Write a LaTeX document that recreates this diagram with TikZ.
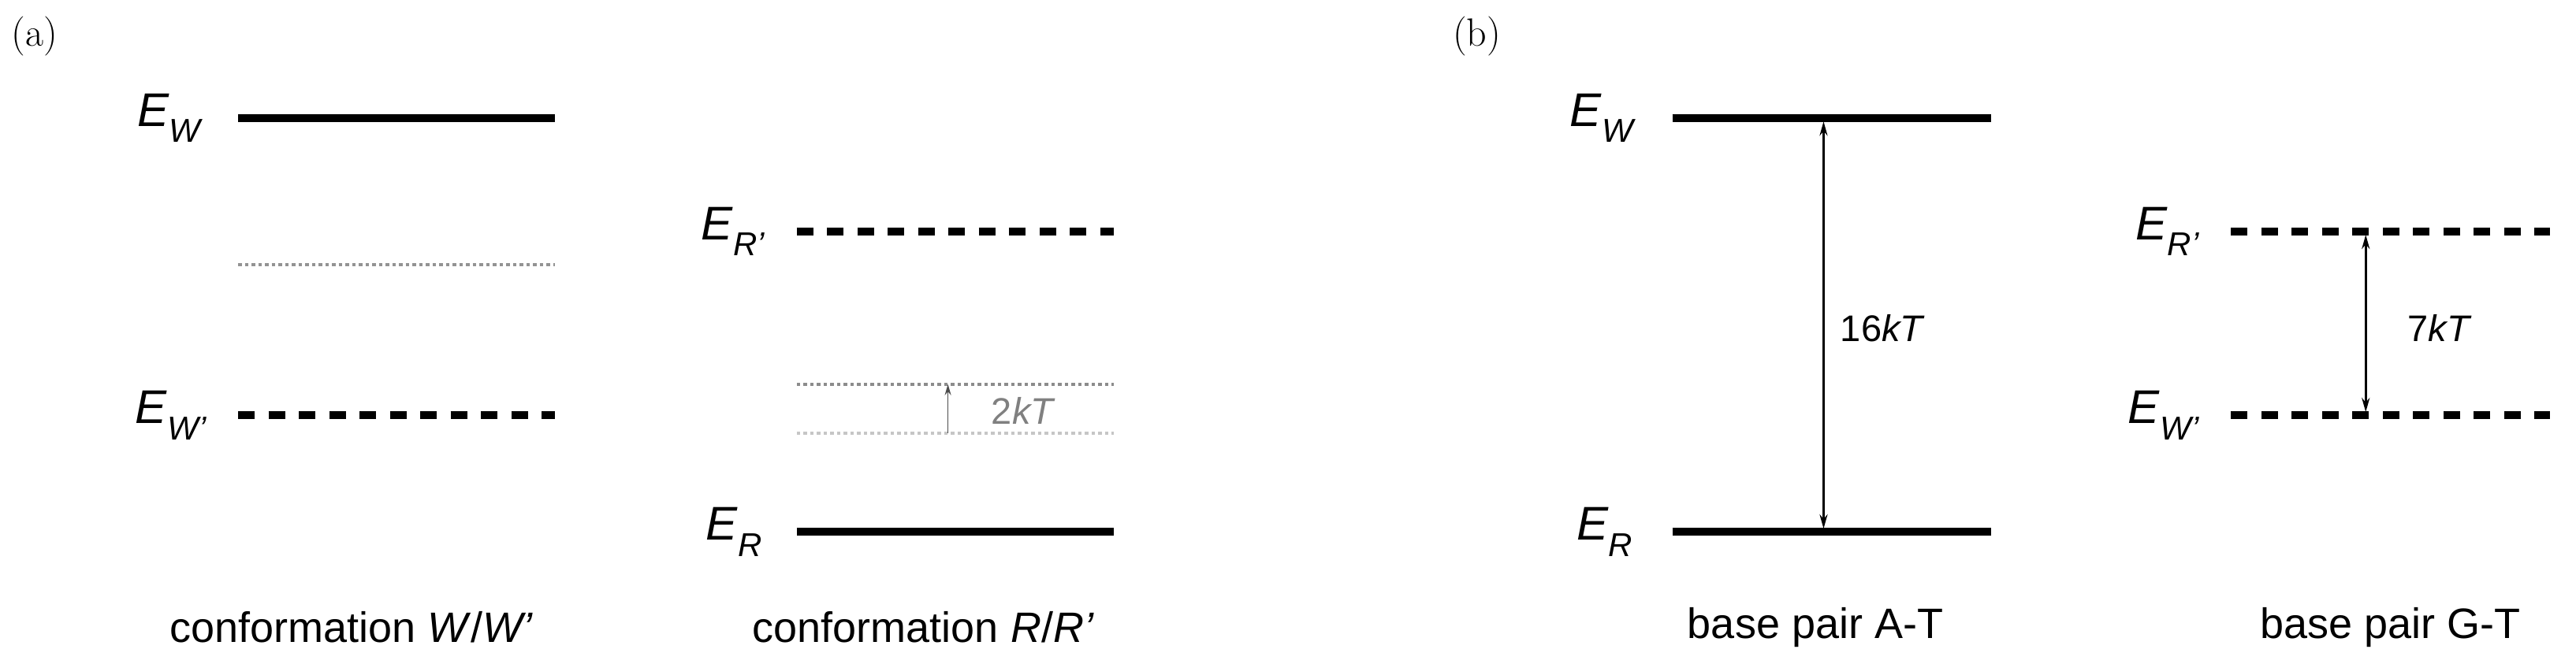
\documentclass[tikz,border=0pt]{standalone}
\usepackage{fontspec}
\setsansfont{Liberation Sans}
\usetikzlibrary{arrows.meta}
\begin{document}
\begin{tikzpicture}[x=2.084pt,y=-2.084pt,
  solidlev/.style={line width=10pt},
  dashlev/.style={line width=10pt,dash pattern=on 21pt off 17.5pt},
  dotlev/.style={line width=4pt,dash pattern=on 4.6pt off 3.9pt},
  elabel/.style={font=\sffamily\fontsize{60}{70}\selectfont,anchor=east,inner sep=0pt},
  captxt/.style={font=\sffamily\fontsize{54}{62}\selectfont},
  numtxt/.style={font=\sffamily\fontsize{47}{56}\selectfont},
  panel/.style={font=\rmfamily\fontsize{50}{60}\selectfont},
  gap/.style={line width=3pt,{Stealth[length=18pt,width=10pt]}-{Stealth[length=18pt,width=10pt]}}]
\useasboundingbox (0,0) rectangle (1568,404);
% panel labels
\node[panel] (pa) at (21,22) {(a)};
\node[panel] (pb) at (899,22) {(b)};
% (a) left
\coordinate (w1) at (145,72); \coordinate (w2) at (338,72);
\draw[solidlev] (w1) -- (w2);
\node[elabel] (lw) at (124,72) {\textit{E}\textsubscript{\textit{W}}};
\coordinate (g1) at (145,161); \coordinate (g2) at (338,161);
\draw[dotlev,gray!85] (g1) -- (g2);
\coordinate (wp1) at (145,253); \coordinate (wp2) at (338,253);
\draw[dashlev] (wp1) -- (wp2);
\node[elabel] (lwp) at (126,253) {\textit{E}\textsubscript{\textit{W’}}};
\node[captxt] (ca) at (214,382) {conformation \textit{W}/\textit{W’}};
% (a) right
\coordinate (rp1) at (485,141); \coordinate (rp2) at (678,141);
\draw[dashlev] (rp1) -- (rp2);
\node[elabel] (lrp) at (466,141) {\textit{E}\textsubscript{\textit{R’}}};
\coordinate (d1) at (485,234); \coordinate (d2) at (678,234);
\draw[dotlev,gray!90] (d1) -- (d2);
\coordinate (e1) at (485,264); \coordinate (e2) at (678,264);
\draw[dotlev,gray!45] (e1) -- (e2);
\coordinate (aU) at (577,234); \coordinate (aD) at (577,264);
\draw[line width=1.8pt,black!70,-{Stealth[length=14pt,width=8pt]}] (aD) -- (aU);
\node[numtxt,text=gray] (k2) at (623,250) {2\textit{kT}};
\coordinate (r1) at (485,324); \coordinate (r2) at (678,324);
\draw[solidlev] (r1) -- (r2);
\node[elabel] (lr) at (464,324) {\textit{E}\textsubscript{\textit{R}}};
\node[captxt] (cb) at (562,382) {conformation \textit{R}/\textit{R’}};
% (b) left
\coordinate (bw1) at (1018,72); \coordinate (bw2) at (1212,72);
\draw[solidlev] (bw1) -- (bw2);
\node[elabel] (blw) at (996,72) {\textit{E}\textsubscript{\textit{W}}};
\coordinate (br1) at (1018,324); \coordinate (br2) at (1212,324);
\draw[solidlev] (br1) -- (br2);
\node[elabel] (blr) at (994,324) {\textit{E}\textsubscript{\textit{R}}};
\coordinate (bu) at (1110,74); \coordinate (bd) at (1110,322);
\draw[gap] (bu) -- (bd);
\node[numtxt] (k16) at (1146,200) {16\textit{kT}};
\node[captxt] (cc) at (1105,382) {base pair A-T};
% (b) right
\coordinate (gr1) at (1358,141); \coordinate (gr2) at (1552,141);
\draw[dashlev] (gr1) -- (gr2);
\node[elabel] (glr) at (1339,141) {\textit{E}\textsubscript{\textit{R’}}};
\coordinate (gw1) at (1358,253); \coordinate (gw2) at (1552,253);
\draw[dashlev] (gw1) -- (gw2);
\node[elabel] (glw) at (1339,253) {\textit{E}\textsubscript{\textit{W’}}};
\coordinate (gu) at (1440,143); \coordinate (gd) at (1440,251);
\draw[gap] (gu) -- (gd);
\node[numtxt] (k7) at (1485,200) {7\textit{kT}};
\node[captxt] (cd) at (1455,382) {base pair G-T};
\end{tikzpicture}
\end{document}
